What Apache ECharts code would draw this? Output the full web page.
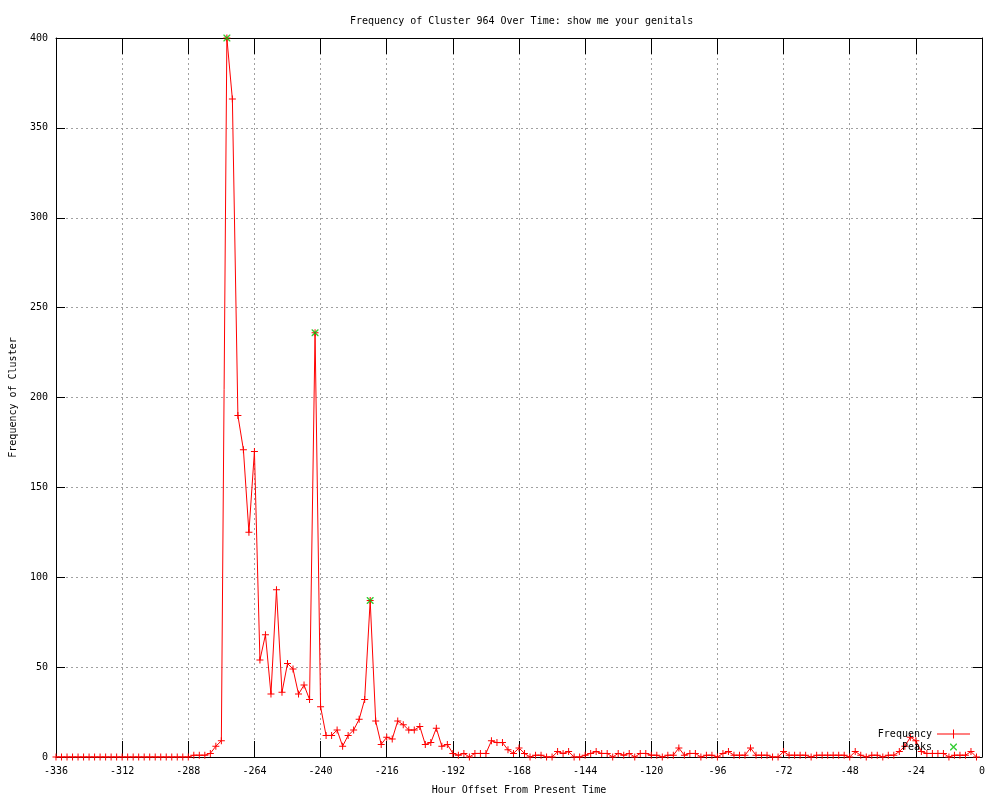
<!DOCTYPE html>
<html>
<head>
<meta charset="utf-8">
<script src="https://cdn.jsdelivr.net/npm/echarts@6/dist/echarts.min.js"></script>
<style>html,body{margin:0;padding:0;background:#fff;}#c{width:1000px;height:800px;}</style>
</head>
<body>
<div id="c"></div>
<script>
var titleText = 'Frequency of Cluster 964 Over Time: show me your genitals';
var xAxisName = 'Hour Offset From Present Time';
var yAxisName = 'Frequency of Cluster';

var hours = [-336,-334,-332,-330,-328,-326,-324,-322,-320,-318,-316,-314,-312,-310,-308,-306,-304,-302,-300,-298,-296,-294,-292,-290,-288,
  -286,-284,-282,-280,-278,-276,-274,-272,-270,-268,-266,-264,-262,-260,-258,-256,-254,-252,-250,-248,-246,-244,-242,-240,
  -238,-236,-234,-232,-230,-228,-226,-224,-222,-220,-218,-216,-214,-212,-210,-208,-206,-204,-202,-200,-198,-196,-194,-192,
  -190,-188,-186,-184,-182,-180,-178,-176,-174,-172,-170,-168,-166,-164,-162,-160,-158,-156,-154,-152,-150,-148,-146,-144,
  -142,-140,-138,-136,-134,-132,-130,-128,-126,-124,-122,-120,-118,-116,-114,-112,-110,-108,-106,-104,-102,-100,-98,-96,
  -94,-92,-90,-88,-86,-84,-82,-80,-78,-76,-74,-72,-70,-68,-66,-64,-62,-60,-58,-56,-54,-52,-50,-48,
  -46,-44,-42,-40,-38,-36,-34,-32,-30,-28,-26,-24,-22,-20,-18,-16,-14,-12,-10,-8,-6,-4,-2];

var frequency = [0,0,0,0,0,0,0,0,0,0,0,0,0,0,0,0,0,0,0,0,0,0,0,0,0,
  1,1,1,2,6,9,400,366,190,171,125,170,54,68,35,93,36,52,49,35,40,32,236,28,
  12,12,15,6,12,15,21,32,87,20,7,11,10,20,18,15,15,17,7,8,16,6,7,2,
  1,2,0,2,2,2,9,8,8,4,2,5,2,0,1,1,0,0,3,2,3,0,0,1,
  2,3,2,2,0,2,1,2,0,2,2,1,1,0,1,1,5,1,2,2,0,1,1,0,
  2,3,1,1,1,5,1,1,1,0,0,3,1,1,1,1,0,1,1,1,1,1,1,0,
  3,1,0,1,1,0,1,1,3,6,11,9,3,2,2,2,2,0,1,1,1,3,0];

var peakHours = [-274, -242, -222];
var peakValues = [400, 236, 87];

var xTicks = {min: -336, max: 0, interval: 24};
var yTicks = {min: 0, max: 400, interval: 50};

var freqData = hours.map(function (h, i) { return [h, frequency[i]]; });
var peakData = peakHours.map(function (h, i) { return [h, peakValues[i]]; });

var FONT = 'DejaVu Sans Mono';
var plusPath = 'path://M0,3h7v1h-7z M3,0h1v7h-1z';
var crossPath = 'path://M0,0h1l6,6v1h-1l-6,-6z M6,0h1v1l-6,6h-1v-1z';

var chart = echarts.init(document.getElementById('c'), null, {renderer: 'canvas'});
chart.setOption({
  animation: false,
  backgroundColor: '#ffffff',
  title: {
    text: titleText,
    left: 345,
    top: 11,
    textStyle: {fontFamily: FONT, fontSize: 10, fontWeight: 'normal', color: '#000'}
  },
  legend: {
    orient: 'vertical',
    right: 25,
    top: 723,
    align: 'right',
    itemWidth: 33,
    itemHeight: 9,
    itemGap: 1,
    textStyle: {fontFamily: FONT, fontSize: 10, color: '#000', lineHeight: 12},
    data: [
      {name: 'Frequency', icon: 'path://M0,4h33v1h-33z M16,0h1v9h-1z'},
      {name: 'Peaks', icon: 'path://M0,0h0.01v0.01h-0.01z M32.99,8.99h0.01v0.01h-0.01z M13,1h1l6,6v1h-1l-6,-6z M19,1h1v1l-6,6h-1v-1z'}
    ]
  },
  grid: {left: 55, right: 18, top: 38, bottom: 40, containLabel: false},
  xAxis: [{
    type: 'value', position: 'bottom',
    min: xTicks.min, max: xTicks.max, interval: xTicks.interval,
    name: xAxisName, nameLocation: 'middle', nameGap: 28,
    nameTextStyle: {fontFamily: FONT, fontSize: 10, color: '#000'},
    axisLine: {show: true, onZero: false, lineStyle: {color: '#000', width: 1}},
    axisTick: {show: true, inside: true, length: 16, lineStyle: {color: '#000'}},
    axisLabel: {fontFamily: FONT, fontSize: 10, color: '#000', margin: 9},
    splitLine: {show: true, lineStyle: {color: '#a0a0a0', type: [2, 3], width: 1}}
  }, {
    type: 'value', position: 'top',
    min: xTicks.min, max: xTicks.max, interval: xTicks.interval,
    axisLine: {show: true, onZero: false, lineStyle: {color: '#000', width: 1}},
    axisTick: {show: true, inside: true, length: 16, lineStyle: {color: '#000'}},
    axisLabel: {show: false},
    splitLine: {show: false}
  }],
  yAxis: [{
    type: 'value', position: 'left',
    min: yTicks.min, max: yTicks.max, interval: yTicks.interval,
    name: yAxisName, nameLocation: 'middle', nameGap: 38,
    nameTextStyle: {fontFamily: FONT, fontSize: 10, color: '#000'},
    axisLine: {show: true, onZero: false, lineStyle: {color: '#000', width: 1}},
    axisTick: {show: true, inside: true, length: 9, lineStyle: {color: '#000'}},
    axisLabel: {fontFamily: FONT, fontSize: 10, color: '#000', margin: 8},
    splitLine: {show: true, lineStyle: {color: '#a0a0a0', type: [2, 3], width: 1}}
  }, {
    type: 'value', position: 'right',
    min: yTicks.min, max: yTicks.max, interval: yTicks.interval,
    axisLine: {show: true, onZero: false, lineStyle: {color: '#000', width: 1}},
    axisTick: {show: true, inside: true, length: 9, lineStyle: {color: '#000'}},
    axisLabel: {show: false},
    splitLine: {show: false}
  }],
  series: [{
    name: 'Frequency',
    type: 'line',
    data: freqData,
    xAxisIndex: 0, yAxisIndex: 0,
    symbol: plusPath,
    symbolSize: 7,
    showSymbol: true,
    showAllSymbol: true,
    color: '#ff0000',
    itemStyle: {color: '#ff0000'},
    lineStyle: {color: '#ff0000', width: 1},
    z: 3
  }, {
    name: 'Peaks',
    type: 'scatter',
    data: peakData,
    xAxisIndex: 0, yAxisIndex: 0,
    symbol: crossPath,
    symbolSize: 7,
    color: '#00c000',
    itemStyle: {color: '#00c000'},
    z: 4
  }]
});
</script>
</body>
</html>
